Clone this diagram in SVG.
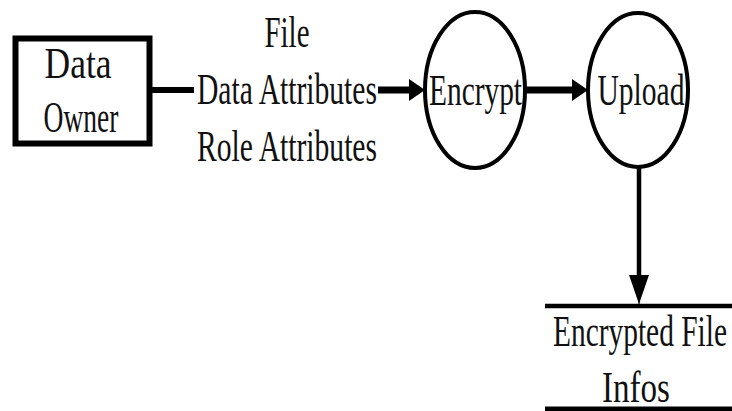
<svg xmlns="http://www.w3.org/2000/svg" width="732" height="411" viewBox="0 0 732 411" font-family="Liberation Serif, Times New Roman, serif">
  <style>
    text { font-family: 'Liberation Serif', 'Times New Roman', Times, serif; font-size: 44px; fill: #111; text-anchor: middle; }
    .shape { fill: #fff; stroke: #000; }
    .wire { stroke: #000; fill: none; }
  </style>
  <defs>
    <marker id="head" markerUnits="userSpaceOnUse" viewBox="0 0 16 22" refX="16" refY="11" markerWidth="16" markerHeight="22" orient="auto">
      <path d="M0,0 L16,11 L0,22 Z" fill="#000"/>
    </marker>
    <marker id="headDown" markerUnits="userSpaceOnUse" viewBox="0 0 29 20" refX="29" refY="10" markerWidth="29" markerHeight="20" orient="auto">
      <path d="M0,0 L29,10 L0,20 Z" fill="#000"/>
    </marker>
  </defs>
  <rect width="732" height="411" fill="#fff"/>

  <!-- connectors -->
  <g id="connectors">
    <line class="wire" x1="152" y1="90" x2="194" y2="90" stroke-width="6"/>
    <line class="wire" x1="378" y1="90" x2="412" y2="90" stroke-width="7"/>
    <line class="wire" x1="408" y1="90" x2="425" y2="90" stroke-width="1" marker-end="url(#head)"/>
    <line class="wire" x1="526" y1="90" x2="575" y2="90" stroke-width="7"/>
    <line class="wire" x1="570" y1="90" x2="588" y2="90" stroke-width="1" marker-end="url(#head)"/>
    <line class="wire" x1="639" y1="167" x2="639" y2="280" stroke-width="4.5"/>
    <line class="wire" x1="639" y1="276" x2="639" y2="304" stroke-width="1" marker-end="url(#headDown)"/>
  </g>

  <!-- flow label -->
  <g id="flow-label">
    <text x="287" y="47" textLength="45" lengthAdjust="spacingAndGlyphs">File</text>
    <text x="287" y="104" textLength="180" lengthAdjust="spacingAndGlyphs">Data Attributes</text>
    <text x="287" y="161" textLength="180" lengthAdjust="spacingAndGlyphs">Role Attributes</text>
  </g>

  <g id="data-owner">
    <rect class="shape" x="15.5" y="38.5" width="134" height="105" stroke-width="6"/>
    <text x="78" y="78" textLength="67" lengthAdjust="spacingAndGlyphs">Data</text>
    <text x="81" y="132" textLength="75" lengthAdjust="spacingAndGlyphs">Owner</text>
  </g>

  <g id="encrypt">
    <ellipse class="shape" cx="475" cy="90" rx="50" ry="78" stroke-width="4"/>
    <text x="475.5" y="105" textLength="93" lengthAdjust="spacingAndGlyphs">Encrypt</text>
  </g>

  <g id="upload">
    <ellipse class="shape" cx="638" cy="90" rx="50" ry="77" stroke-width="4"/>
    <text x="641" y="105" textLength="87" lengthAdjust="spacingAndGlyphs">Upload</text>
  </g>

  <g id="encrypted-file-infos">
    <line class="wire" x1="545" y1="306" x2="732" y2="306" stroke-width="4.5"/>
    <line class="wire" x1="545" y1="409" x2="732" y2="409" stroke-width="5"/>
    <text x="640" y="346" textLength="174" lengthAdjust="spacingAndGlyphs">Encrypted File</text>
    <text x="636" y="402" textLength="68" lengthAdjust="spacingAndGlyphs">Infos</text>
  </g>
</svg>
